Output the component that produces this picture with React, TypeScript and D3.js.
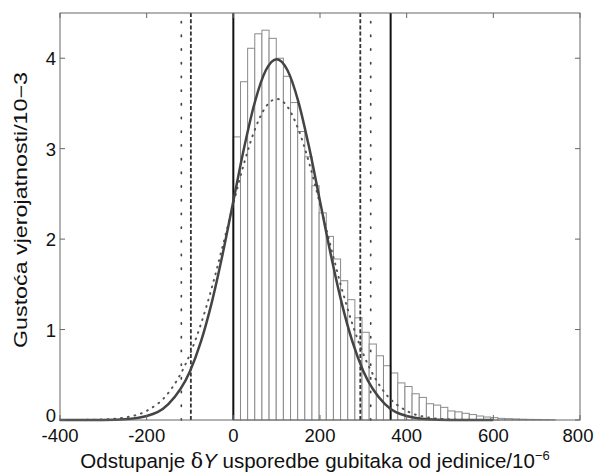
import React from "react";
import * as d3 from "d3";

// Histogram: bin width 16.5 (×10^-6), starting at 0; density ×10^-3
const binStart = 0;
const binWidth = 16.5;
const histHeights = [
  3.13, 3.74, 4.11, 4.27, 4.31, 4.22, 4.0, 3.8, 3.51, 3.19,
  2.91, 2.59, 2.29, 2.03, 1.78, 1.54, 1.33, 1.13, 0.97, 0.84,
  0.71, 0.6, 0.52, 0.41, 0.37, 0.29, 0.25, 0.18, 0.165, 0.14,
  0.1, 0.09, 0.074, 0.06, 0.044, 0.033, 0.026, 0.018, 0.015, 0.012,
  0.009, 0.007, 0.006, 0.004, 0.003,
];

// Solid fitted curve
const solidX = [-400, -350, -300, -250, -200, -150, -100, -75, -50, -25, 0, 25, 50, 75, 100, 125, 150, 175, 200, 225, 250, 275, 300, 350, 400, 450, 500, 550, 600];
const solidY = [0, 0, 0.0013, 0.0087, 0.044, 0.175, 0.54, 0.863, 1.295, 1.827, 2.42, 3.012, 3.521, 3.867, 3.99, 3.867, 3.521, 3.012, 2.42, 1.827, 1.295, 0.863, 0.54, 0.175, 0.044, 0.0087, 0.0013, 0, 0];

// Dotted curve
const dottedX = [-400, -350, -300, -250, -200, -150, -100, -75, -50, -25, 0, 25, 50, 75, 100, 125, 150, 175, 200, 225, 250, 275, 300, 350, 400, 450, 500, 550, 600];
const dottedY = [0.0002, 0.0012, 0.0063, 0.028, 0.101, 0.299, 0.729, 1.057, 1.457, 1.914, 2.389, 2.842, 3.215, 3.463, 3.55, 3.463, 3.215, 2.842, 2.389, 1.914, 1.457, 1.057, 0.729, 0.299, 0.101, 0.028, 0.0063, 0.0012, 0.0002];

// Vertical limit lines
const solidLimits = [0, 363];
const dashedLimits = [-98, 293];
const dottedLimits = [-120, 317];

const xTicks = [-400, -200, 0, 200, 400, 600, 800];
const yTicks = [0, 1, 2, 3, 4];

export default function App() {
  const W = 594, H = 473;
  const left = 60, right = 580, top = 13, bottom = 420;
  const x = d3.scaleLinear().domain([-400, 800]).range([left, right]);
  const y = d3.scaleLinear().domain([0, 4.5]).range([bottom, top]);
  const font = "'Liberation Sans', Arial, Helvetica, sans-serif";

  const solidLine = d3
    .line<number>()
    .x((_, i) => x(solidX[i]))
    .y((d) => y(d))
    .curve(d3.curveMonotoneX);
  const dottedLine = d3
    .line<number>()
    .x((_, i) => x(dottedX[i]))
    .y((d) => y(d))
    .curve(d3.curveMonotoneX);

  const axisColor = "#666";
  const tickLen = 5;

  return (
    <svg
      width={W}
      height={H}
      style={{ position: "absolute", left: 0, top: 0, background: "#fff" }}
      fontFamily={font}
    >
      <rect x={0} y={0} width={W} height={H} fill="#fff" />
      {/* histogram */}
      <g>
        {histHeights.map((h, i) => {
          const x0 = x(binStart + i * binWidth);
          const x1 = x(binStart + (i + 1) * binWidth);
          return (
            <rect
              key={i}
              x={x0}
              y={y(h)}
              width={x1 - x0}
              height={y(0) - y(h)}
              fill="#fff"
              stroke="#8a8a8a"
              strokeWidth={1}
            />
          );
        })}
      </g>
      {/* vertical limits */}
      {dottedLimits.map((v, i) => (
        <line key={"dl" + i} x1={x(v)} x2={x(v)} y1={bottom} y2={top}
          stroke="#444" strokeWidth={1.7} strokeDasharray="1.2 12.5" strokeLinecap="round" />
      ))}
      {dashedLimits.map((v, i) => (
        <line key={"da" + i} x1={x(v)} x2={x(v)} y1={bottom} y2={top}
          stroke="#333" strokeWidth={1.8} strokeDasharray="4 2.2" />
      ))}
      {solidLimits.map((v, i) => (
        <line key={"sl" + i} x1={x(v)} x2={x(v)} y1={bottom} y2={top}
          stroke="#111" strokeWidth={2} />
      ))}
      {/* curves */}
      <path d={dottedLine(dottedY) || ""} fill="none" stroke="#555" strokeWidth={2}
        strokeDasharray="0.8 6" strokeLinecap="round" />
      <path d={solidLine(solidY) || ""} fill="none" stroke="#444" strokeWidth={2.5} />
      {/* frame */}
      <rect x={left} y={top} width={right - left} height={bottom - top}
        fill="none" stroke={axisColor} strokeWidth={1} />
      {/* ticks */}
      {xTicks.map((t) => (
        <g key={"xt" + t}>
          <line x1={x(t)} x2={x(t)} y1={bottom} y2={bottom - tickLen} stroke={axisColor} />
          <line x1={x(t)} x2={x(t)} y1={top} y2={top + tickLen} stroke={axisColor} />
          <text x={t === 800 ? x(t) - 2 : x(t)} y={442} textAnchor="middle" fontSize={18.5} fill="#111">
            {t}
          </text>
        </g>
      ))}
      {yTicks.map((t) => (
        <g key={"yt" + t}>
          <line x1={left} x2={left + tickLen} y1={y(t)} y2={y(t)} stroke={axisColor} />
          <line x1={right} x2={right - tickLen} y1={y(t)} y2={y(t)} stroke={axisColor} />
          <text x={56} y={y(t) + (t === 0 ? 2 : 7)} textAnchor="end" fontSize={18.5} fill="#111">
            {t}
          </text>
        </g>
      ))}
      {/* axis labels */}
      <text x={315} y={468} textAnchor="middle" fontSize={20.5} fill="#111">
        Odstupanje <tspan fontFamily="'DejaVu Serif', serif">δ</tspan>
        <tspan fontStyle="italic">Y</tspan> usporedbe gubitaka od jedinice/10
        <tspan dy={-8} fontSize={13}>−6</tspan>
      </text>
      <text
        transform={`translate(27, 210) rotate(-90)`}
        textAnchor="middle"
        fontSize={18}
        textLength={276}
        lengthAdjust="spacingAndGlyphs"
        fill="#111"
      >
        Gustoća vjerojatnosti/10−3
      </text>
    </svg>
  );
}
